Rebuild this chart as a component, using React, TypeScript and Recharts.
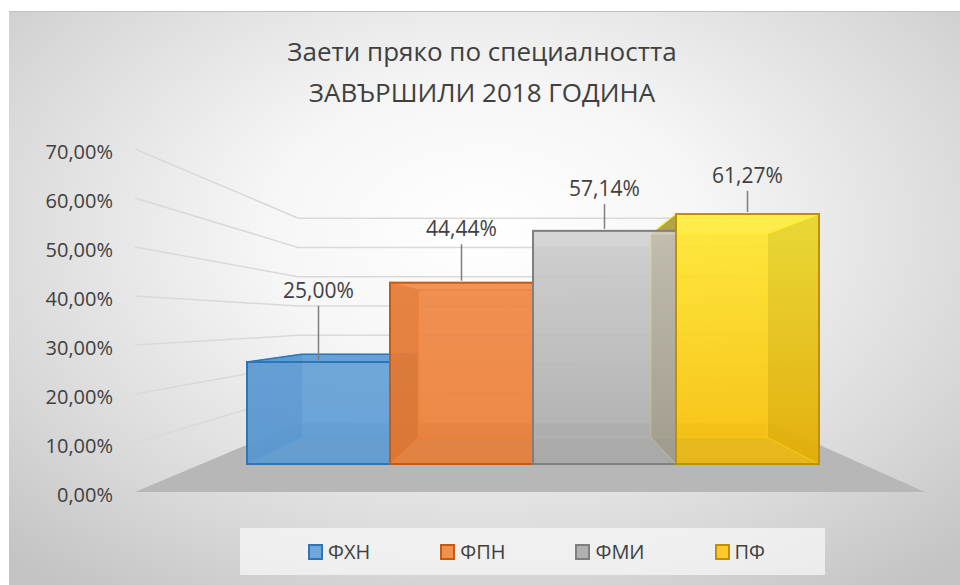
import React from 'react'
import { BarChart, Bar, XAxis, YAxis, Legend, LabelList, CartesianGrid } from 'recharts'

const titleLines = ['Заети пряко по специалността', 'ЗАВЪРШИЛИ 2018 ГОДИНА']
const categories = ['Завършили 2018']
const seriesNames = ['ФХН', 'ФПН', 'ФМИ', 'ПФ']
const seriesValues = [25.0, 44.44, 57.14, 61.27]
const yTicks = [0, 10, 20, 30, 40, 50, 60, 70]

const baseColors = ['#5B9BD5', '#ED7D31', '#A8A8A8', '#F9BC00']
const topColors = ['#629FD8', '#EE8440', '#D0D0D0', '#FFEE31']
const edgeColors = ['#2E75B6', '#C55A11', '#7F7F7F', '#BF9000']
const sideColors = ['#3F78AE', '#B0500F', '#8A8A80', '#6A5610']
const legendFills = ['#70A8DC', '#F0904F', '#B0B0B0', '#FFC82A']

const FONT = '"Open Sans", "Noto Sans", sans-serif'
const TEXT = '#404040'

// fake 3D: vanishing point + depth factors (back plane shrinks toward VP)
const VP = { x: 541, y: 321 }
const WALL_DEPTH = 0.598
const BAR_DEPTH = 0.814
const WALL_LEFT = 135
const WALL_RIGHT = 925

const data = categories.map((name) => {
  const row: Record<string, any> = { name }
  seriesNames.forEach((s, i) => {
    row[s] = seriesValues[i]
  })
  return row
})

const fmt = (v: number) => v.toFixed(2).replace('.', ',') + '%'

const proj = (px: number, py: number, f: number): [number, number] => [
  VP.x + (px - VP.x) * f,
  VP.y + (py - VP.y) * f,
]

const pts = (list: [number, number][]) => list.map((p) => p.join(',')).join(' ')

// grid line on the left wall + back wall; the bottom line becomes the floor
function WallLine(props: any) {
  const y = props.y1
  const [bx, by] = proj(WALL_LEFT, y, WALL_DEPTH)
  const [rx] = proj(WALL_RIGHT, y, WALL_DEPTH)
  const isFloor = Math.abs(y - (props.y + props.height)) < 1
  if (isFloor) {
    return <polygon points={pts([[WALL_LEFT, y], [WALL_RIGHT, y], [rx, by], [bx, by]])} fill="#B7B7B7" />
  }
  return (
    <polyline
      points={pts([[WALL_LEFT, y], [bx, by], [rx, by]])}
      fill="none"
      stroke="#D9D9D9"
      strokeWidth={1.5}
    />
  )
}

function WallTick(props: any) {
  const { y, payload } = props
  return (
    <text x={WALL_LEFT - 22} y={y + 10} textAnchor="end" fontFamily={FONT} fontSize={20} fill={TEXT}>
      {fmt(payload.value)}
    </text>
  )
}

// inner part of the box: back, bottom, sides, top
function BoxBack(props: any) {
  const { x, y, width, height, si } = props
  const x0 = x
  const x1 = x + width
  const y0 = y
  const y1 = y + height
  const b = (px: number, py: number) => proj(px, py, BAR_DEPTH)
  const base = baseColors[si]
  const side = sideColors[si]
  const inner = { stroke: topColors[si], strokeWidth: 1, strokeOpacity: 0.9 }
  const topSeen = y0 > VP.y
  return (
    <g>
      <polygon points={pts([b(x0, y0), b(x1, y0), b(x1, y1), b(x0, y1)])} fill={base} fillOpacity={0.5} {...inner} />
      <polygon points={pts([[x0, y1], [x1, y1], b(x1, y1), b(x0, y1)])} fill={side} fillOpacity={0.3} {...inner} />
      <polygon points={pts([[x0, y0], b(x0, y0), b(x0, y1), [x0, y1]])} fill={side} fillOpacity={0.72} {...inner} />
      <polygon points={pts([[x1, y0], b(x1, y0), b(x1, y1), [x1, y1]])} fill={side} fillOpacity={0.72} {...inner} />
      <polygon
        points={pts([[x0, y0], [x1, y0], b(x1, y0), b(x0, y0)])}
        fill={topSeen ? base : topColors[si]}
        fillOpacity={topSeen ? 0.85 : 0.3}
        stroke={topSeen ? edgeColors[si] : topColors[si]}
        strokeWidth={topSeen ? 1.5 : 1}
      />
    </g>
  )
}

function BoxFront(props: any) {
  const { x, y, width, height, si } = props
  const gid = 'front-grad-' + si
  return (
    <g>
      <defs>
        <linearGradient id={gid} x1="0" y1="0" x2="0" y2="1">
          <stop offset="0%" stopColor={topColors[si]} />
          <stop offset="100%" stopColor={baseColors[si]} />
        </linearGradient>
      </defs>
      <rect
        x={x}
        y={y}
        width={width}
        height={height}
        fill={`url(#${gid})`}
        fillOpacity={0.8}
        stroke={edgeColors[si]}
        strokeWidth={2}
      />
    </g>
  )
}

function LeaderLabel(props: any) {
  const vb = props.viewBox && props.viewBox.width !== undefined ? props.viewBox : props
  const { x, y, width } = vb
  const cx = x + width / 2
  const len = 47 + (y - VP.y) * 0.223
  const top = y - len
  return (
    <g>
      <line x1={cx} y1={y - 2} x2={cx} y2={top} stroke="#7F7F7F" strokeWidth={1.5} />
      <text x={cx} y={top - 8} textAnchor="middle" fontFamily={FONT} fontSize={21} fill={TEXT}>
        {fmt(Number(props.value))}
      </text>
    </g>
  )
}

function LegendBox() {
  return (
    <div
      style={{
        width: '100%',
        height: '100%',
        boxSizing: 'border-box',
        paddingLeft: 8,
        background: 'rgba(250,250,250,0.7)',
        display: 'flex',
        alignItems: 'center',
        justifyContent: 'center',
        gap: 70,
        fontFamily: FONT,
        fontSize: 20,
        color: TEXT,
      }}
    >
      {seriesNames.map((name, i) => (
        <div key={name} style={{ display: 'flex', alignItems: 'center', gap: 5 }}>
          <span
            style={{
              display: 'inline-block',
              width: 11,
              height: 12,
              background: legendFills[i],
              border: `2px solid ${edgeColors[i]}`,
            }}
          />
          <span>{name}</span>
        </div>
      ))}
    </div>
  )
}

export default function App() {
  return (
    <div style={{ position: 'absolute', left: 0, top: 0, width: 960, height: 585, background: '#fff', overflow: 'hidden' }}>
      <div
        style={{
          position: 'absolute',
          left: 9,
          top: 11,
          width: 951,
          height: 574,
          borderTop: '1px solid #c0c0c0',
          background: 'radial-gradient(ellipse 72% 78% at 50% 38%, #ffffff 0%, #f6f6f6 32%, #d8d8d8 75%, #c4c4c4 100%)',
        }}
      />
      <div
        style={{
          position: 'absolute',
          left: 0,
          top: 31,
          width: 964,
          textAlign: 'center',
          fontFamily: FONT,
          fontSize: 26,
          lineHeight: '41px',
          color: TEXT,
        }}
      >
        {titleLines.map((t) => (
          <div key={t}>{t}</div>
        ))}
      </div>
      <div style={{ position: 'absolute', left: 0, top: 0 }}>
        <BarChart
          width={960}
          height={585}
          data={data}
          margin={{ top: 149, right: 140, bottom: 93, left: 0 }}
          barCategoryGap={0}
          barGap={0}
        >
          <CartesianGrid
            xAxisId="front"
            yAxisId="wall"
            vertical={false}
            horizontal={(p: any) => <WallLine key={p.key} {...p} />}
          />
          <XAxis xAxisId="back" dataKey="name" hide />
          <XAxis xAxisId="front" dataKey="name" hide />
          <YAxis
            yAxisId="wall"
            width={247}
            domain={[0, 70]}
            allowDataOverflow
            ticks={yTicks}
            interval={0}
            axisLine={false}
            tickLine={false}
            tick={<WallTick />}
          />
          <YAxis yAxisId="bars" hide domain={[-6.86, 77.2]} allowDataOverflow />
          <Legend
            layout="vertical"
            align="center"
            verticalAlign="middle"
            wrapperStyle={{ left: 240, top: 528, width: 585, height: 47 }}
            content={<LegendBox />}
          />
          {seriesNames.map((s, i) => (
            <Bar
              key={'back-' + s}
              dataKey={s}
              xAxisId="back"
              yAxisId="bars"
              legendType="none"
              fill={baseColors[i]}
              isAnimationActive={false}
              shape={(p: any) => <BoxBack {...p} si={i} />}
            />
          ))}
          {seriesNames.map((s, i) => (
            <Bar
              key={s}
              dataKey={s}
              name={s}
              xAxisId="front"
              yAxisId="bars"
              fill={baseColors[i]}
              isAnimationActive={false}
              shape={(p: any) => <BoxFront {...p} si={i} />}
            >
              <LabelList dataKey={s} content={<LeaderLabel />} />
            </Bar>
          ))}
        </BarChart>
      </div>
    </div>
  )
}
